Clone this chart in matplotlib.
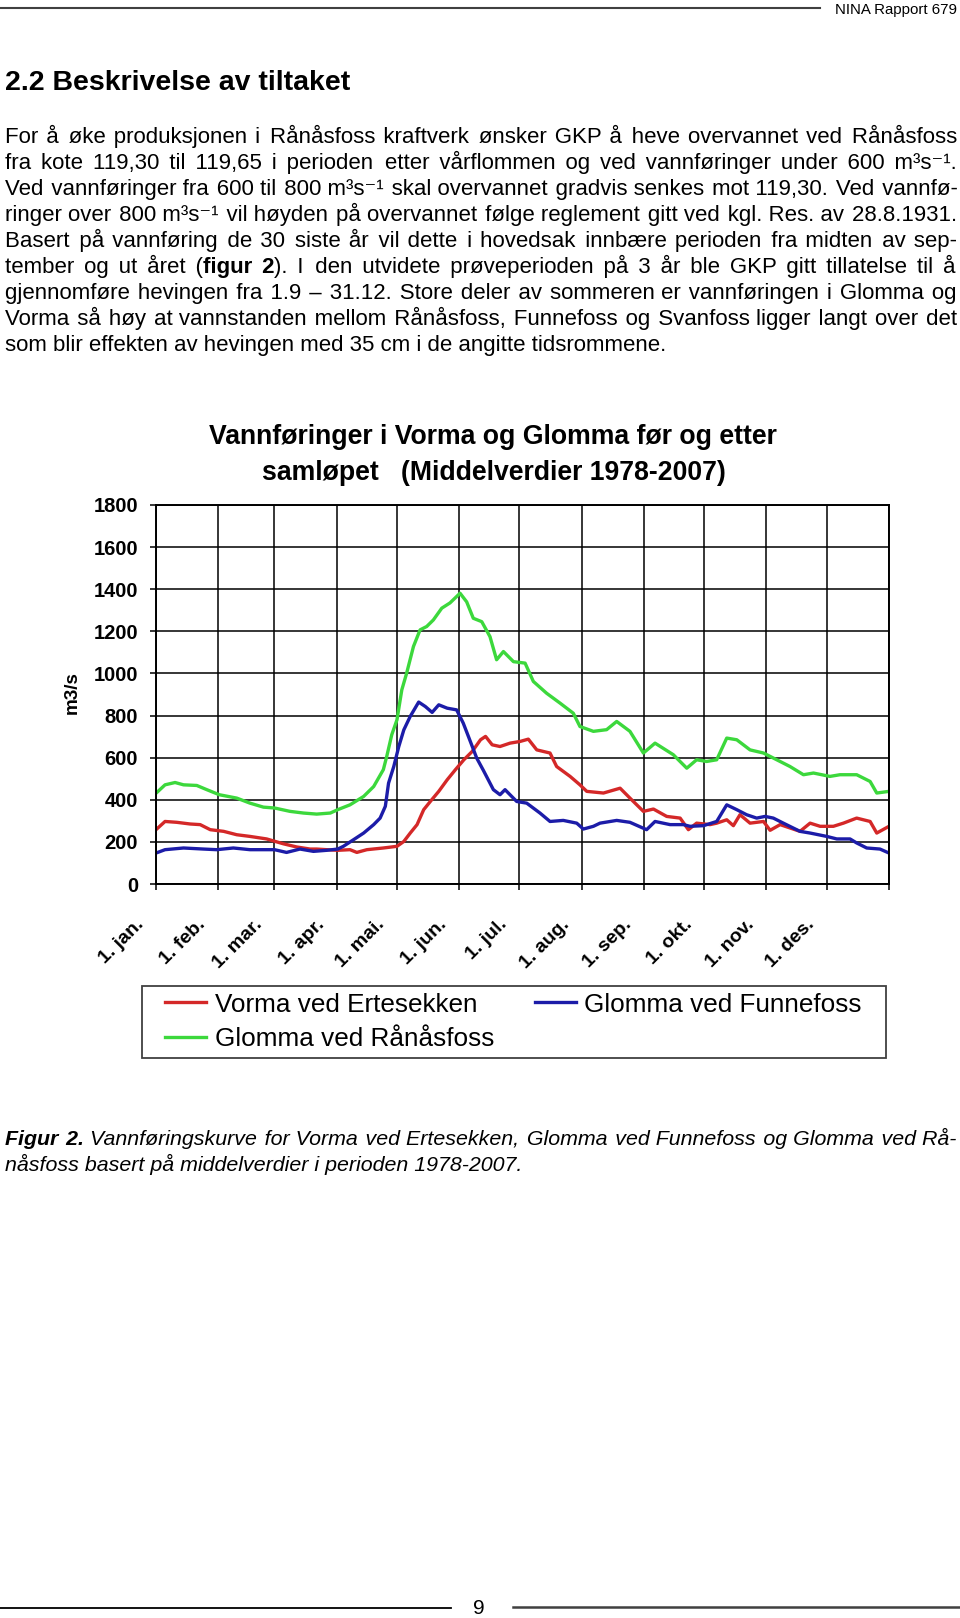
import numpy as np
import matplotlib
matplotlib.use("Agg")
import matplotlib.pyplot as plt
from matplotlib.lines import Line2D
from matplotlib.patches import Rectangle
from matplotlib.transforms import ScaledTranslation

plt.rcParams["font.family"] = ["Liberation Sans", "DejaVu Sans"]

# --- data (day of year, m3/s) ---
vorma_days = [0, 4.5, 10.3, 17, 22, 27, 33.7, 40.2, 46.8, 55.1, 63.4, 70, 76.7, 80, 85, 90.5,
              96.6, 100, 105, 113.2, 120, 123.4, 126.6, 130, 133.3, 136.6, 140.8, 145, 149.1,
              153.3, 157.5, 161.6, 164.1, 167.4, 171.3, 176.3, 181.3, 185.4, 189.6, 196.2,
              199.5, 206.2, 211.1, 214.5, 222.8, 231.1, 236, 242.7, 247.7, 254.3, 261, 265.1,
              269.2, 275.9, 279.2, 284.2, 287.5, 290.8, 295.8, 302.5, 305.8, 310.8, 320.7,
              325.7, 330.7, 337.3, 342.3, 348.9, 355.6, 358.9, 365]
vorma_vals = [258, 297, 293, 285, 282, 258, 250, 234, 226, 214, 191, 176, 166, 166, 163, 160,
              163, 150, 163, 171, 179, 202, 242, 282, 353, 392, 440, 495, 543,
              590, 630, 685, 701, 661, 653, 669, 677, 688, 637, 622,
              558, 511, 471, 440, 432, 455, 408, 345, 356, 321, 313, 258,
              289, 282, 289, 305, 277, 329, 289, 297, 255, 282, 250,
              289, 274, 274, 289, 313, 297, 242, 274]

funnefoss_days = [0, 4.5, 13.7, 23.6, 30.2, 38.5, 46.8, 59, 65, 71.7, 78.4, 85, 90.5, 93.3,
                  98.3, 103.4, 108.4, 111.6, 114.2, 115.8, 118.4, 120.9, 123.4, 126.6, 130.8,
                  134.1, 137.5, 140.8, 145, 149.7, 153, 156, 159.7, 163, 168, 171.3, 173.8,
                  179.6, 184.6, 191.2, 196.2, 202.8, 209.5, 212.8, 217.8, 221.1, 229.4, 236,
                  244.3, 248.5, 256, 262.6, 265.9, 272.6, 279.2, 284.2, 289.2, 294.1, 299.1,
                  303.3, 307.4, 312.4, 320.7, 325.7, 334, 339, 345.6, 348.9, 353.9, 360.5, 365]
funnefoss_vals = [147, 163, 171, 166, 163, 171, 163, 163, 150, 166, 155, 160, 166, 179,
                  210, 242, 282, 313, 369, 479, 558, 653, 732, 796, 864,
                  843, 815, 851, 835, 827, 764, 690, 598, 540, 448, 424, 448,
                  392, 384, 337, 297, 302, 289, 261, 274, 289, 302, 293,
                  258, 297, 282, 282, 274, 277, 297, 376, 353, 329, 313,
                  321, 313, 289, 250, 242, 226, 214, 214, 195, 171, 166, 147]

raanaasfoss_days = [0, 4.5, 9.5, 13.7, 20.3, 25.3, 31.5, 40.2, 46.8, 53.5, 59, 66.7, 73.4, 80,
                    86.8, 90.5, 96.6, 103.4, 108.4, 113.2, 114.9, 117.4, 120, 122.4, 124.8,
                    128.2, 131.5, 134.8, 138.1, 142.3, 146.4, 151.4, 154.7, 158, 162.2, 166.3,
                    169.6, 173, 178, 183.8, 187.9, 194.5, 201.2, 207.8, 211.1, 217.8, 224.4,
                    229.4, 236, 242.7, 248.5, 257.6, 264.3, 269.2, 274.2, 279.2, 284.2, 289.2,
                    295.8, 302.5, 309.1, 315.7, 322.4, 327.4, 335.6, 340.6, 348.9, 355.6,
                    358.9, 365]
raanaasfoss_vals = [431, 471, 482, 471, 468, 448, 424, 408, 384, 365, 361, 345, 337, 332,
                    337, 353, 376, 416, 463, 543, 606, 709, 780, 922, 1001,
                    1128, 1207, 1223, 1254, 1310, 1335, 1381, 1340, 1262, 1246, 1175,
                    1065, 1104, 1056, 1049, 962, 906, 859, 811, 748, 725, 733,
                    772, 725, 622, 669, 614, 550, 590, 582, 590, 693, 685,
                    637, 622, 590, 558, 519, 527, 511, 519, 519, 487,
                    432, 440]

month_lengths = [31, 28, 31, 30, 31, 30, 31, 31, 30, 31, 30, 31]
month_labels = ["1. jan.", "1. feb.", "1. mar.", "1. apr.", "1. mai.", "1. jun.",
                "1. jul.", "1. aug.", "1. sep.", "1. okt.", "1. nov.", "1. des."]
series_names = ["Vorma ved Ertesekken", "Glomma ved Funnefoss", "Glomma ved Rånåsfoss"]

paragraph = [
    "For å øke produksjonen i Rånåsfoss kraftverk ønsker GKP å heve overvannet ved Rånåsfoss",
    "fra kote 119,30 til 119,65 i perioden etter vårflommen og ved vannføringer under 600 m³s⁻¹.",
    "Ved vannføringer fra 600 til 800 m³s⁻¹ skal overvannet gradvis senkes mot 119,30. Ved vannfø-",
    "ringer over 800 m³s⁻¹ vil høyden på overvannet følge reglement gitt ved kgl. Res. av 28.8.1931.",
    "Basert på vannføring de 30 siste år vil dette i hovedsak innbære perioden fra midten av sep-",
    "tember og ut året (**figur** **2**). I den utvidete prøveperioden på 3 år ble GKP gitt tillatelse til å",
    "gjennomføre hevingen fra 1.9 – 31.12. Store deler av sommeren er vannføringen i Glomma og",
    "Vorma så høy at vannstanden mellom Rånåsfoss, Funnefoss og Svanfoss ligger langt over det",
    "som blir effekten av hevingen med 35 cm i de angitte tidsrommene.",
]
caption = [
    "**Figur** **2.** Vannføringskurve for Vorma ved Ertesekken, Glomma ved Funnefoss og Glomma ved Rå-",
    "nåsfoss basert på middelverdier i perioden 1978-2007.",
]

RED, BLUE, GREEN = "#d42828", "#1c1ca8", "#3cd83c"
HAIR = "\u200a"

W, H = 960, 1618
fig = plt.figure(figsize=(W / 100, H / 100), dpi=100)
renderer = fig.canvas.get_renderer()


def text_width(s, size, bold, style):
    t = fig.text(0, 0, s, fontsize=size, fontweight="bold" if bold else "normal", style=style)
    w = t.get_window_extent(renderer).width
    t.remove()
    return w


def draw_line(line, y, size, justify, style="normal", x0=5, x1=957):
    # justified line: gaps built from one space plus hair spaces, words of one style in one text
    words = []
    for word in line.split(" "):
        words.append([(p, i % 2 == 1) for i, p in enumerate(word.split("**")) if p])
    base = text_width("xx", size, False, style)
    sp = (text_width("x" + " " * 10 + "x", size, False, style) - base) / 10
    hw = max((text_width("x" + HAIR * 40 + "x", size, False, style) - base) / 40, 0.3)
    wws = [sum(text_width(s, size, b, style) for s, b in w) for w in words]
    n = len(words)
    gap = (x1 - x0 - sum(wws)) / (n - 1) if justify and n > 1 else sp

    runs = []  # [text, bold, x, open]
    x = x0
    target = x0
    for i, w in enumerate(words):
        for s, b in w:
            if runs and runs[-1][1] == b and runs[-1][3]:
                runs[-1][0] += s
            else:
                runs.append([s, b, x, True])
            x += text_width(s, size, b, style)
        target += wws[i]
        if i == n - 1:
            break
        target += gap
        need = target - x
        if need >= sp:
            k = int(round((need - sp) / hw))
            gs, gw = " " + HAIR * k, sp + k * hw
        else:
            k = int(round(need / hw))
            gs, gw = HAIR * k, k * hw
        if words[i + 1][0][1] == runs[-1][1]:
            runs[-1][0] += gs
        else:
            runs[-1][3] = False
        x += gw
    for s, b, rx, _ in runs:
        fig.text(rx / W, 1 - y / H, s, fontsize=size, style=style,
                 fontweight="bold" if b else "normal", va="baseline")


# header / heading
fig.add_artist(Line2D([0, 820 / W], [1 - 8 / H] * 2, color="#404040", lw=1.5))
fig.text(957 / W, 1 - 14 / H, "NINA Rapport 679", fontsize=10.8, ha="right", va="baseline")
fig.text(5 / W, 1 - 90 / H, "2.2 Beskrivelse av tiltaket", fontsize=20.5,
         fontweight="bold", va="baseline")

for i, line in enumerate(paragraph):
    draw_line(line, 143.5 + 26 * i, 16, i < len(paragraph) - 1)

# chart
fig.text(493 / W, 1 - 437 / H, "Vannføringer i Vorma og Glomma før og etter",
         fontsize=19.2, fontweight="bold", ha="center", va="center")
fig.text(494 / W, 1 - 473 / H, "samløpet   (Middelverdier 1978-2007)",
         fontsize=19.2, fontweight="bold", ha="center", va="center")

ax = fig.add_axes([156 / W, 1 - 884 / H, 733 / W, 379 / H])
l1, = ax.plot(vorma_days, vorma_vals, color=RED, lw=2.4)
l2, = ax.plot(funnefoss_days, funnefoss_vals, color=BLUE, lw=2.4)
l3, = ax.plot(raanaasfoss_days, raanaasfoss_vals, color=GREEN, lw=2.4)

month_starts = np.concatenate([[0], np.cumsum(month_lengths)])
ax.set_xlim(0, 365)
ax.set_ylim(0, 1800)
ax.set_xticks(month_starts)
ax.set_xticklabels(month_labels + [""], rotation=45, ha="right", va="top",
                   rotation_mode="anchor", fontsize=14, fontweight="bold")
ax.set_yticks(np.arange(0, 1801, 200))
ax.set_yticklabels([str(v) for v in range(0, 1801, 200)], fontsize=14.5, fontweight="bold")
ax.tick_params(axis="y", direction="out", length=4.3, width=1.1, pad=8.6)
ax.tick_params(axis="x", direction="out", length=4, width=1.1, pad=19)
shift = ScaledTranslation(-21 / 100, 0, fig.dpi_scale_trans)
for lab in ax.get_xticklabels():
    lab.set_transform(lab.get_transform() + shift)
ax.grid(True, color="black", lw=1.1)
ax.set_axisbelow(True)
for sp in ax.spines.values():
    sp.set_linewidth(1.4)
fig.text(72 / W, 1 - 693 / H, "m3/s", rotation=90, fontsize=13.6, fontweight="bold",
         ha="center", va="center")

# legend: frame drawn separately so padding can follow the original
fig.add_artist(Rectangle((142 / W, 1 - 1058 / H), 744 / W, 72 / H, transform=fig.transFigure,
                         facecolor="white", edgecolor="#404040", lw=1.3))
leg = fig.legend([l1, l3, l2], [series_names[0], series_names[2], series_names[1]],
                 ncol=2, loc="upper left", mode="expand",
                 bbox_to_anchor=(165 / W, 1 - 1058 / H, 697 / W, (1058 - 992.5) / H),
                 fontsize=18.8, handlelength=1.57, handletextpad=0.34, columnspacing=2.0,
                 borderpad=0, labelspacing=0.42, frameon=False, borderaxespad=0)

# caption
draw_line(caption[0], 1145, 15.4, True, style="italic")
draw_line(caption[1], 1171, 15.4, False, style="italic")

# footer
fig.add_artist(Line2D([0, 451 / W], [1 - 1608 / H] * 2, color="black", lw=1.3))
fig.add_artist(Line2D([513 / W, 1], [1 - 1607 / H] * 2, color="#404040", lw=1.8))
fig.text(479 / W, 1 - 1614 / H, "9", fontsize=15, ha="center", va="baseline")

fig.savefig("out.png", dpi=100)
